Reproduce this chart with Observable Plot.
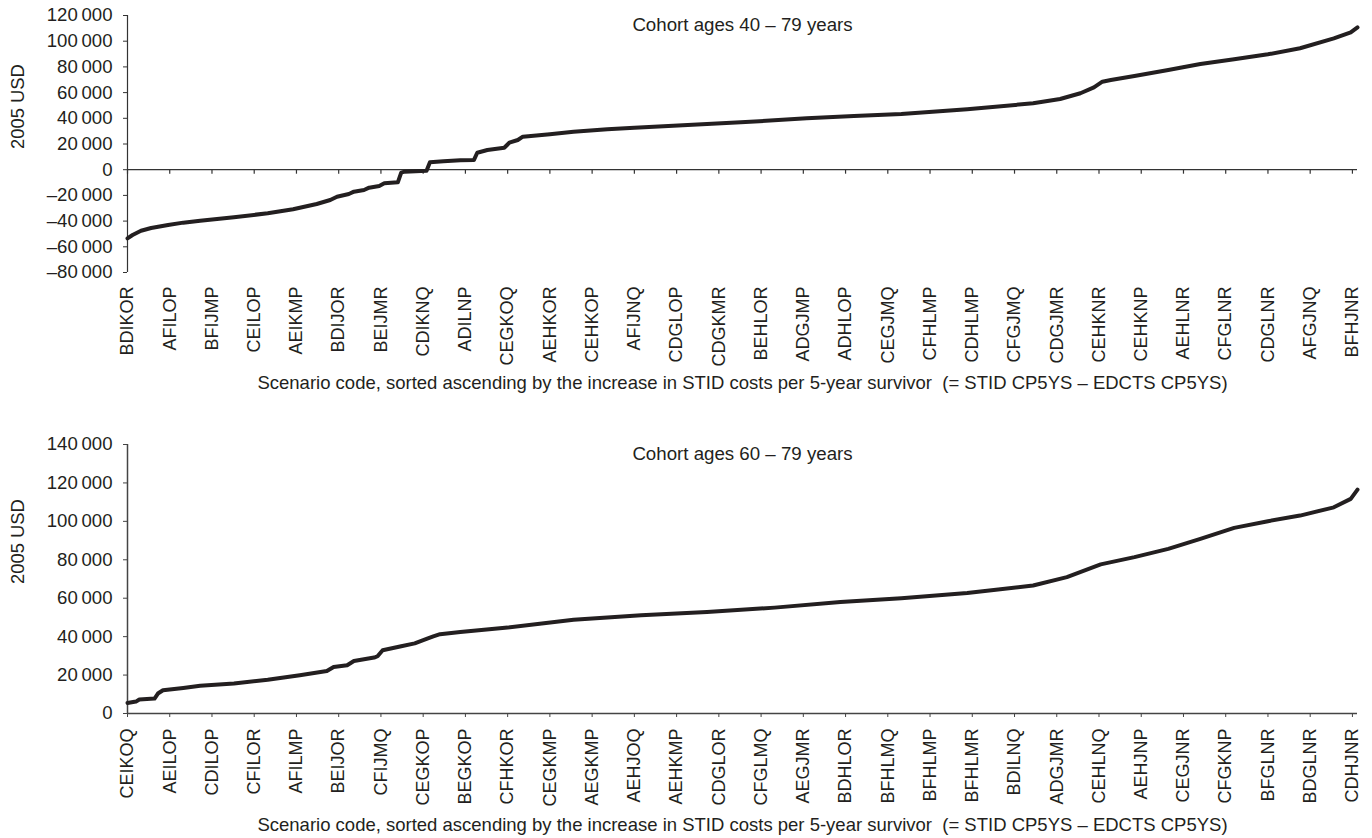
<!DOCTYPE html>
<html>
<head>
<meta charset="utf-8">
<script src="https://cdn.jsdelivr.net/npm/d3@7"></script>
<script src="https://cdn.jsdelivr.net/npm/@observablehq/plot@0.6"></script>
<style>
  html, body { margin: 0; padding: 0; background: #fff; }
  #chart svg { display: block; }
</style>
</head>
<body>
<div id="chart"></div>
<script>
// ---- Data ----
const tickIdx = [0,25,50,75,100,125,150,175,200,225,250,275,300,325,350,375,400,425,450,475,500,525,550,575,600,625,650,675,700,725];

const topLabels = ["BDIKOR","AFILOP","BFIJMP","CEILOP","AEIKMP","BDIJOR","BEIJMR","CDIKNQ","ADILNP","CEGKOQ","AEHKOR","CEHKOP","AFIJNQ","CDGLOP","CDGKMR","BEHLOR","ADGJMP","ADHLOP","CEGJMQ","CFHLMP","CDHLMP","CFGJMQ","CDGJMR","CEHKNR","CEHKNP","AEHLNR","CFGLNR","CDGLNR","AFGJNQ","BFHJNR"];
const bottomLabels = ["CEIKOQ","AEILOP","CDILOP","CFILOR","AFILMP","BEIJOR","CFIJMQ","CEGKOP","BEGKOP","CFHKOR","CEGKMP","AEGKMP","AEHJOQ","AEHKMP","CDGLOR","CFGLMQ","AEGJMR","BDHLOR","BFHLMQ","BFHLMP","BFHLMR","BDILNQ","ADGJMR","CEHLNQ","AEHJNP","CEGJNR","CFGKNP","BFGLNR","BDGLNR","CDHJNR"];

// Cohort ages 40-79 (scenario rank -> USD)
const topIdx = [0,3,8,14,24,33,43,63,83,98,112,120,124,131,134,140,143,149,152,160,162,164,177,179,187,197,205,207,213,223,226,231,234,250,264,284,300,323,363,402,430,458,497,536,552,564,572,577,582,596,616,635,655,675,694,714,724,728];
const topVal = [-53400,-50800,-47500,-45400,-43000,-41200,-39700,-37000,-33900,-30800,-26700,-23600,-21000,-18900,-17100,-15800,-14000,-12700,-10600,-9800,-2300,-1500,-800,5800,6500,7300,7500,13200,15300,17100,21000,23100,25700,27600,29600,31500,32600,34200,36900,40000,41700,43300,47000,51700,55000,59500,64100,68500,69800,72900,77600,82200,85900,89800,94500,102200,106900,110800];

// Cohort ages 60-79
const botIdx = [0,5,7,16,18,21,33,43,63,83,102,118,122,130,134,146,148,151,162,170,177,181,185,197,225,264,304,343,383,422,458,497,536,556,576,596,616,635,655,675,694,714,724,728];
const botVal = [5500,6200,7300,7800,10400,12100,13300,14400,15600,17600,19900,22100,24200,25100,27300,29100,29800,32900,35000,36500,38800,40100,41300,42400,44700,48800,51100,52800,55100,58000,60000,62700,66600,71000,77600,81400,85700,90900,96600,100100,103000,107300,111700,116500];

const topYTicks = [-80000,-60000,-40000,-20000,0,20000,40000,60000,80000,100000,120000];
const botYTicks = [0,20000,40000,60000,80000,100000,120000,140000];

const xTitle = "Scenario code, sorted ascending by the increase in STID costs per 5-year survivor  (= STID CP5YS \u2013 EDCTS CP5YS)";
const topTitle = "Cohort ages 40 \u2013 79 years";
const botTitle = "Cohort ages 60 \u2013 79 years";
const yTitle = "2005 USD";

// ---- Build ----
const topData = topIdx.map((x, i) => ({x, y: topVal[i]}));
const botData = botIdx.map((x, i) => ({x, y: botVal[i]}));

const fmt = d => d3.format(",")(d).replace(/,/g, "\u2009").replace("\u2212", "\u2013");
const ink = "#231f20";
const font = "'Liberation Sans', Arial, Helvetica, sans-serif";

const chart1 = Plot.plot({
  width: 1372, height: 420,
  marginLeft: 127, marginRight: 15, marginTop: 15, marginBottom: 148,
  x: {domain: [0, 728], axis: null},
  y: {domain: [-80000, 120000], axis: null},
  style: {fontFamily: font, fontSize: "18px", color: ink, background: "#fff"},
  marks: [
    Plot.axisY({ticks: topYTicks, tickFormat: fmt, tickSize: 4, tickPadding: 11, label: null, fontSize: 18.6, stroke: "#333"}),
    Plot.ruleX([0], {stroke: "#333", strokeWidth: 1.2}),
    Plot.ruleY([0], {stroke: "#333", strokeWidth: 1.2}),
    Plot.ruleX(tickIdx, {x: d => d, y1: 0, y2: 0, insetBottom: -4.5, stroke: "#333", strokeWidth: 1.2}),
    Plot.axisX({ticks: tickIdx, tickFormat: d => topLabels[tickIdx.indexOf(d)], tickRotate: -90, tickSize: 0, tickPadding: 14, label: null, fontSize: 18}),
    Plot.line(topData, {x: "x", y: "y", stroke: ink, strokeWidth: 4, strokeLinejoin: "round", strokeLinecap: "round"}),
    Plot.text([topTitle], {frameAnchor: "top", dy: 2, fontSize: 18.7, fill: ink}),
    Plot.text([xTitle], {frameAnchor: "bottom", dy: 116.5, fontSize: 18.5, fill: ink}),
    Plot.text([yTitle], {frameAnchor: "left", rotate: -90, dx: -109, dy: 5, fontSize: 18.4, fill: ink})
  ]
});

const chart2 = Plot.plot({
  width: 1372, height: 418,
  marginLeft: 127, marginRight: 15, marginTop: 24, marginBottom: 125,
  x: {domain: [0, 728], axis: null},
  y: {domain: [0, 140000], axis: null},
  style: {fontFamily: font, fontSize: "18px", color: ink, background: "#fff"},
  marks: [
    Plot.axisY({ticks: botYTicks, tickFormat: fmt, tickSize: 4, tickPadding: 11, label: null, fontSize: 18.6, stroke: "#444"}),
    Plot.ruleX([0], {stroke: "#444", strokeWidth: 1.5}),
    Plot.ruleY([0], {stroke: "#444", strokeWidth: 1.5}),
    Plot.axisX({ticks: tickIdx, tickFormat: d => bottomLabels[tickIdx.indexOf(d)], tickRotate: -90, tickSize: 4, tickPadding: 11, label: null, fontSize: 18, stroke: "#444"}),
    Plot.line(botData, {x: "x", y: "y", stroke: ink, strokeWidth: 4, strokeLinejoin: "round", strokeLinecap: "round"}),
    Plot.text([botTitle], {frameAnchor: "top", dy: 2, fontSize: 18.7, fill: ink}),
    Plot.text([xTitle], {frameAnchor: "bottom", dy: 117, fontSize: 18.5, fill: ink}),
    Plot.text([yTitle], {frameAnchor: "left", rotate: -90, dx: -109, dy: 5, fontSize: 18.4, fill: ink})
  ]
});

const el = document.getElementById("chart");
el.appendChild(chart1);
el.appendChild(chart2);
</script>
</body>
</html>
